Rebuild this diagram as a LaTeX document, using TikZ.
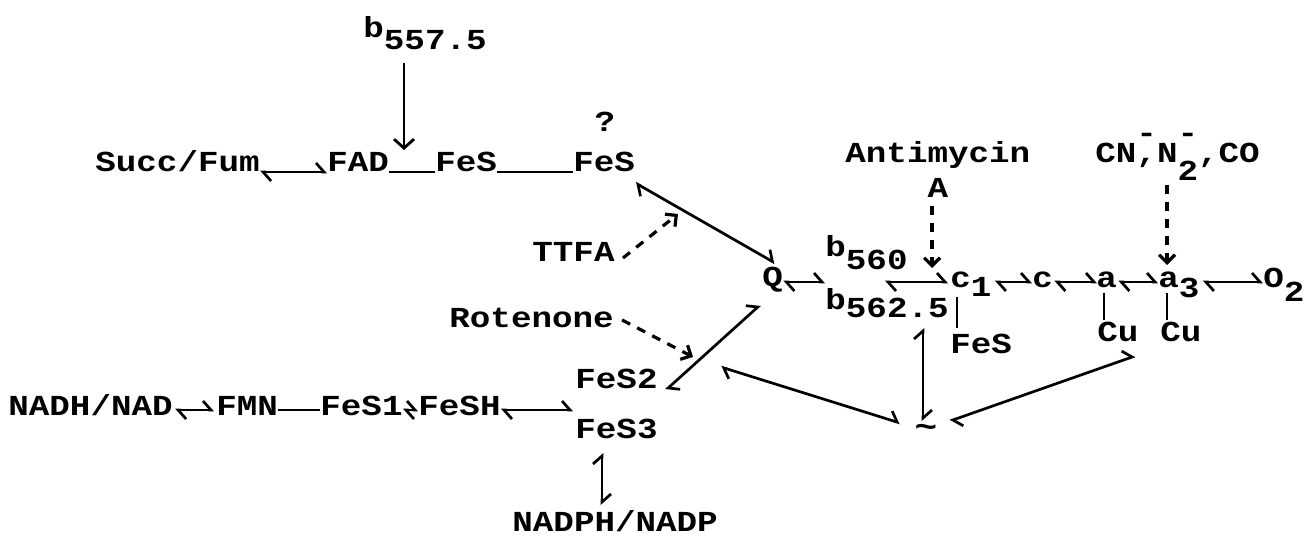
\documentclass[tikz,border=0pt]{standalone}
\usepackage{fontspec}
\setmainfont{Liberation Mono}[FakeStretch=1.18]
\usetikzlibrary{arrows.meta,calc}
\tikzset{
 lbl/.style={inner sep=0pt, font=\bfseries\fontsize{14.5pt}{16pt}\selectfont, anchor=base west},
 eq/.style={line width=1.35pt, {Straight Barb[harpoon,length=4pt,width=9pt]}-{Straight Barb[harpoon,length=4pt,width=9pt]}},
 bond/.style={line width=1.35pt},
 inh/.style={line width=1.6pt, dash pattern=on 4.5pt off 4pt, -{Straight Barb[length=4pt,width=8pt]}},
 arr/.style={line width=1.4pt, -{Straight Barb[length=4.5pt,width=10pt]}},
}
\newcommand\dn[2]{\raisebox{-#1}{#2}}
\begin{document}
\begin{tikzpicture}[x=0.5pt,y=-0.5pt]
\useasboundingbox (0,0) rectangle (1315,539);
% top branch
\node[lbl] (b557) at (363,38) {b\dn{6pt}{557.5}};
\node[lbl] (succ) at (95,172) {Succ/Fum};
\node[lbl] (fad) at (327,172) {FAD};
\node[lbl] (fesA) at (435,172) {FeS};
\node[lbl] (fesB) at (573,172) {FeS};
\node[lbl,anchor=base] (qm) at (605,132) {?};
\coordinate (jn) at (404,150);
\draw[arr] ($(b557.base west)+(41,25)$) -- (jn);
\draw[eq] (succ.base east) -- (fad.base west);
\draw[bond] (fad.base east) -- (fesA.base west);
\draw[bond] (fesA.base east) -- (fesB.base west);
% inhibitors left
\node[lbl] (ttfa) at (532,262) {TTFA};
\node[lbl] (rot) at (449,328) {Rotenone};
\coordinate (ttfaT) at (678,214);
\coordinate (rotT) at (693,357);
\draw[inh] ($(ttfa.base east)+(8,-4)$) -- (ttfaT);
\draw[inh] ($(rot.base east)+(8,-8)$) -- (rotT);
% Q
\node[lbl] (q) at (762,287) {Q};
\draw[eq] ($(fesB.base east)+(0,11)$) -- ($(q.base west)+(13,-24)$);
% b cytochromes
\node[lbl] (b560) at (825,257) {b\dn{6pt}{560}};
\node[lbl] (b562) at (825,310) {b\dn{3.5pt}{562.5}};
\draw[eq] ($(q.base east)+(0,-5)$) -- ($(b560.base west)+(0,25)$);
% main chain
\node[lbl] (c1) at (950,288) {c\dn{4.5pt}{1}};
\node[lbl] (c) at (1032,288) {c};
\node[lbl] (a) at (1096,288) {a};
\node[lbl] (a3) at (1158,288) {a\dn{5pt}{3}};
\node[lbl] (o2) at (1263,288) {O\dn{7pt}{2}};
\draw[eq] ($(b560.base west)+(60,25)$) -- ($(c1.base west)+(-2,-6)$);
\draw[eq] ($(c1.base east)+(3,-6)$) -- ($(c.base west)+(0,-6)$);
\draw[eq] ($(c.base east)+(1,-6)$) -- ($(a.base west)+(1,-6)$);
\draw[eq] ($(a.base east)+(1,-6)$) -- ($(a3.base west)+(0,-6)$);
\draw[eq] ($(a3.base east)+(3,-6)$) -- ($(o2.base west)+(0,-6)$);
% inhibitors right
\node[lbl] (anti) at (845,163) {Antimycin};
\node[lbl,anchor=base] (antA) at (938,198) {A};
\coordinate (antT) at (932,268);
\draw[inh] ($(antA.base)+(-6,8)$) -- (antT);
\node[lbl] (cn) at (1095,163) {CN\rlap{\raisebox{10pt}{-}},N\rlap{\raisebox{10pt}{-}}\dn{9pt}{2},CO};
\coordinate (cnT) at (1167,265);
\draw[inh] ($(cn.base west)+(72,22)$) -- (cnT);
% pendants
\node[lbl] (fesC) at (950,353) {FeS};
\node[lbl] (cuA) at (1097,342) {Cu};
\node[lbl] (cuB) at (1160,342) {Cu};
\draw[bond] ($(c1.base west)+(7,9)$) -- ($(fesC.base west)+(7,-25)$);
\draw[bond] ($(a.base west)+(8,5)$) -- ($(cuA.base west)+(7,-22)$);
\draw[bond] ($(a3.base west)+(9,5)$) -- ($(cuB.base west)+(7,-22)$);
% NADH branch
\node[lbl] (nadh) at (8,415) {NADH/NAD};
\node[lbl] (fmn) at (216,415) {FMN};
\node[lbl] (fes1) at (320,415) {FeS1};
\node[lbl] (fesh) at (418,415) {FeSH};
\node[lbl] (fes2) at (575,388) {FeS2};
\node[lbl] (fes3) at (575,438) {FeS3};
\node[lbl] (nadph) at (512,531) {NADPH/NADP};
\draw[eq] ($(nadh.base east)+(2,-5)$) -- ($(fmn.base west)+(-2,-5)$);
\draw[bond] ($(fmn.base east)+(0,-5)$) -- ($(fes1.base west)+(0,-5)$);
\draw[eq] ($(fes1.base east)+(0,-5)$) -- ($(fesh.base west)+(0,-5)$);
\draw[eq] ($(fesh.base east)+(0,-5)$) -- ($(fes2.base west)+(-2,22)$);
\draw[eq] ($(fes3.base west)+(27,15)$) -- ($(nadph.base west)+(90,-26)$);
\draw[eq] ($(q.base west)+(-2,18)$) -- ($(fes2.base east)+(8,2)$);
% energy
\node[inner sep=0pt, font=\bfseries\fontsize{16pt}{18pt}\selectfont] (tl) at (926,431) {\char"7E};
\draw[eq] ($(b562.base west)+(98,18)$) -- ($(tl.center)+(-3,-10)$);
\draw[eq] ($(tl.center)+(-26,-8)$) -- ($(fes2.base east)+(63,-21)$);
\draw[eq] ($(tl.center)+(24,-10)$) -- ($(cuA.base west)+(38,14)$);
\end{tikzpicture}
\end{document}
